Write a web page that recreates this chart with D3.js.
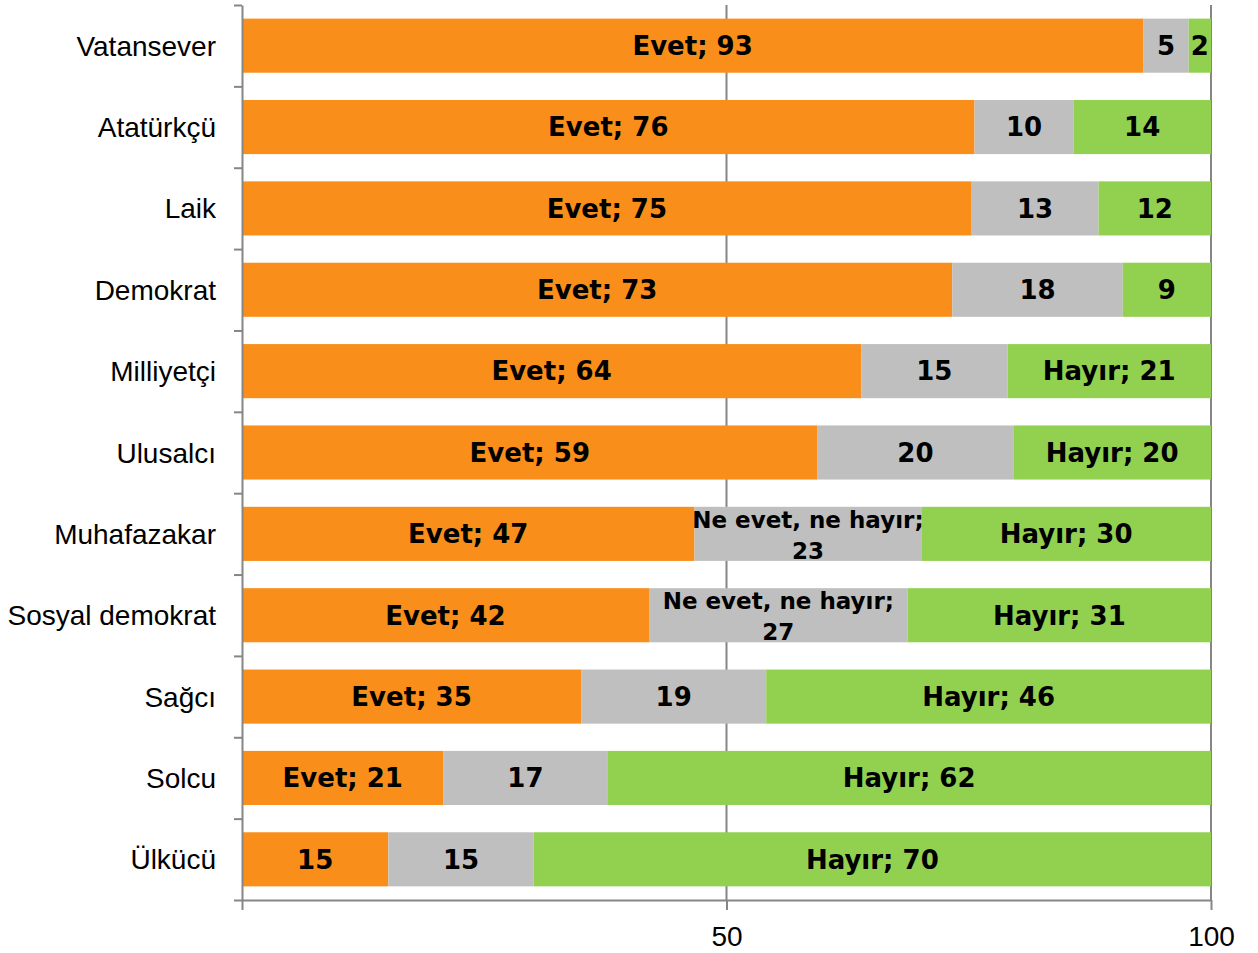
<!DOCTYPE html>
<html>
<head>
<meta charset="utf-8">
<script src="https://cdn.jsdelivr.net/npm/d3@7"></script>
<style>
  body { margin: 0; background: #fff; }
</style>
</head>
<body>
<script>
// data (labels show the rounded values)
let categories = ['Vatansever', 'Atatürkçü', 'Laik', 'Demokrat', 'Milliyetçi', 'Ulusalcı',
  'Muhafazakar', 'Sosyal demokrat', 'Sağcı', 'Solcu', 'Ülkücü'];
let seriesNames = ['Evet', 'Ne evet, ne hayır', 'Hayır'];
let evet = [93.0, 75.6, 75.3, 73.3, 63.9, 59.4, 46.7, 42.0, 35.0, 20.8, 15.1];
let neEvetNeHayir = [4.7, 10.2, 13.1, 17.6, 15.1, 20.2, 23.4, 26.7, 19.1, 16.9, 15.0];
let hayir = [2.3, 14.2, 11.6, 9.1, 21.0, 20.4, 29.9, 31.3, 45.9, 62.3, 69.9];
// which data labels also show the series name
let evetShowName = [true, true, true, true, true, true, true, true, true, true, false];
let neShowName = [false, false, false, false, false, false, true, true, false, false, false];
let hayirShowName = [false, false, false, false, true, true, true, true, true, true, true];
let xTicks = [0, 50, 100];
let xTickLabels = ['', '50', '100'];

let colors = ['#F98E1A', '#BFBFBF', '#92D050'];
let axisColor = '#868686';

let width = 1258, height = 953;
let margin = { top: 5, left: 242, bottom: 53, right: 47 };

let svg = d3.select('body').append('svg').attr('width', width).attr('height', height);

let x = d3.scaleLinear().domain([0, 100]).range([margin.left, width - margin.right]);
let y = d3.scaleBand().domain(categories).range([margin.top, height - margin.bottom])
  .paddingInner(0.335).paddingOuter(0.1675);
let yEdge = d3.scaleLinear().domain([0, categories.length]).range([margin.top, height - margin.bottom]);

let values = [evet, neEvetNeHayir, hayir];
let showName = [evetShowName, neShowName, hayirShowName];
let fmt = d3.format('.0f');

// 100% stacked rows
let rows = categories.map(function(c, i) {
  let total = d3.sum(values, function(v) { return v[i]; });
  let acc = 0;
  return values.map(function(v, s) {
    let p = v[i] / total * 100;
    let seg = { cat: c, s: s, value: v[i], x0: acc, x1: acc + p, named: showName[s][i] };
    acc += p;
    return seg;
  });
});
let segs = rows.flat();

// gridlines
svg.append('g').selectAll('line').data(xTicks.filter(function(d) { return d > 0; })).enter()
  .append('line')
  .attr('x1', function(d) { return x(d); }).attr('x2', function(d) { return x(d); })
  .attr('y1', margin.top).attr('y2', height - margin.bottom)
  .attr('stroke', axisColor).attr('stroke-width', 2);

// bars
svg.append('g').selectAll('rect').data(segs).enter().append('rect')
  .attr('x', function(d) { return x(d.x0); })
  .attr('width', function(d) { return x(d.x1) - x(d.x0); })
  .attr('y', function(d) { return y(d.cat); })
  .attr('height', y.bandwidth())
  .attr('fill', function(d) { return colors[d.s]; });

// data labels
let labelFont = 'DejaVu Sans, sans-serif';
let lab = svg.append('g').attr('font-family', labelFont).attr('font-weight', 'bold')
  .attr('text-anchor', 'middle').attr('fill', '#000');

segs.forEach(function(d) {
  let cx = (x(d.x0) + x(d.x1)) / 2;
  let cy = y(d.cat) + y.bandwidth() / 2;
  let text = d.named ? seriesNames[d.s] + '; ' + fmt(d.value) : fmt(d.value);
  let t = lab.append('text').attr('x', cx).attr('y', cy).attr('dy', '0.36em')
    .attr('font-size', 26).text(text);
  let segW = x(d.x1) - x(d.x0);
  if (d.named && t.node().getComputedTextLength() > segW) {
    // wrap onto two lines like the original
    t.text(null).attr('dy', null).attr('font-size', 23);
    t.append('tspan').attr('x', cx).attr('y', cy - 6).text(seriesNames[d.s] + ';');
    t.append('tspan').attr('x', cx).attr('y', cy + 25).text(fmt(d.value));
  }
});

// y axis
let yAxis = d3.axisLeft(yEdge).tickValues(d3.range(categories.length + 1))
  .tickFormat('').tickSize(8).tickSizeOuter(0);
let gy = svg.append('g').attr('transform', 'translate(' + margin.left + ',0)').call(yAxis);
gy.selectAll('path, line').attr('stroke', axisColor).attr('stroke-width', 2);

// category labels
svg.append('g').selectAll('text').data(categories).enter().append('text')
  .attr('x', 216)
  .attr('y', function(d) { return y(d) + y.bandwidth() / 2; })
  .attr('dy', '0.36em')
  .attr('text-anchor', 'end')
  .attr('font-family', 'Liberation Sans, Arial, sans-serif')
  .attr('font-size', 28)
  .attr('fill', '#000')
  .text(function(d) { return d; });

// x axis
let xAxis = d3.axisBottom(x).tickValues(xTicks)
  .tickFormat(function(d, i) { return xTickLabels[i]; }).tickSize(10).tickSizeOuter(0).tickPadding(16);
let gx = svg.append('g').attr('transform', 'translate(0,' + (height - margin.bottom) + ')').call(xAxis);
gx.selectAll('path, line').attr('stroke', axisColor).attr('stroke-width', 2);
gx.selectAll('text').attr('font-family', 'Liberation Sans, Arial, sans-serif')
  .attr('font-size', 28).attr('fill', '#000');
</script>
</body>
</html>
